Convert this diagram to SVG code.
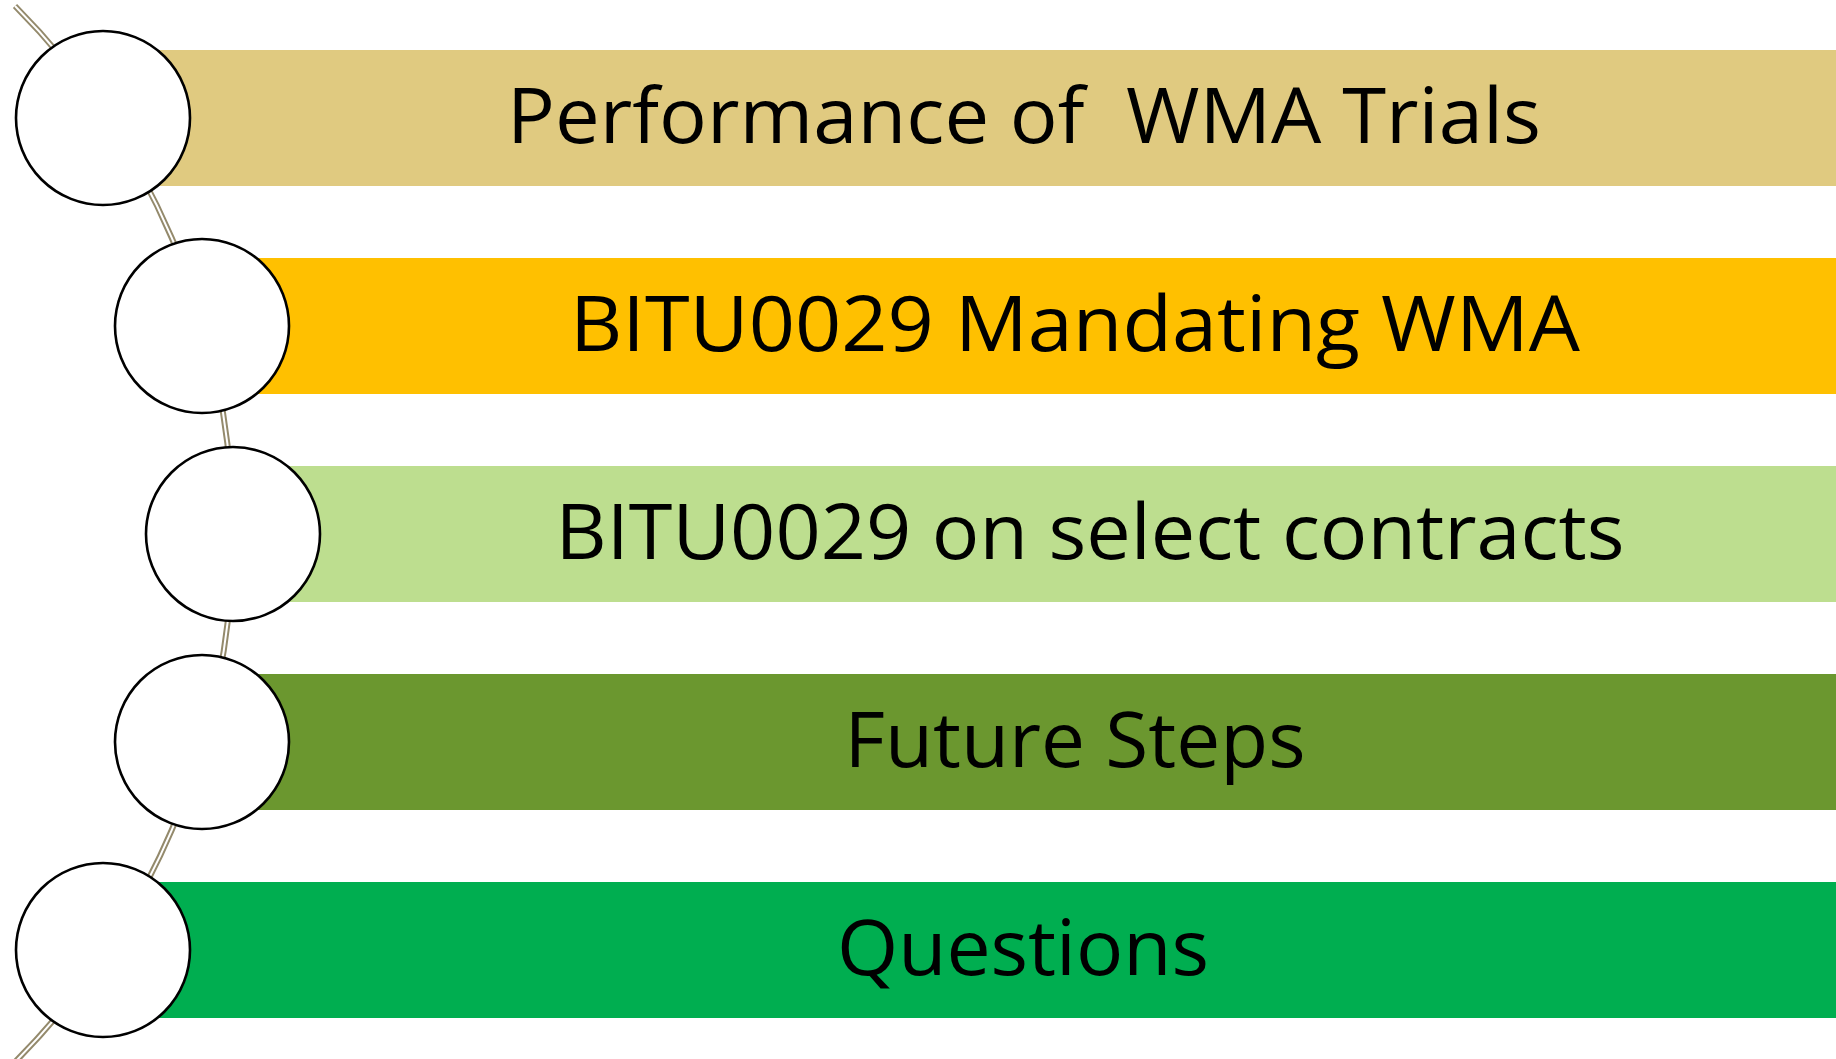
<svg xmlns="http://www.w3.org/2000/svg" width="1836" height="1059" viewBox="0 0 1836 1059">
  <style>
    .bar { stroke: none; }
    .dot { fill: #ffffff; stroke: #000000; stroke-width: 2.6; }
    .label { font-family: "Open Sans", "Liberation Sans", sans-serif; font-size: 77px; fill: #000000; text-anchor: middle; white-space: pre; }
    .rail-outer { fill: none; stroke: #948A6C; stroke-width: 6; }
    .rail-inner { fill: none; stroke: #ffffff; stroke-width: 2; }
  </style>
  <rect width="1836" height="1059" fill="#ffffff"/>

  <!-- bands -->
  <g id="band-1"><rect class="bar" x="103" y="50" width="1733" height="136" fill="#E0CA80"/></g>
  <g id="band-2"><rect class="bar" x="202" y="258" width="1634" height="136" fill="#FFC000"/></g>
  <g id="band-3"><rect class="bar" x="233" y="466" width="1603" height="136" fill="#BDDE8F"/></g>
  <g id="band-4"><rect class="bar" x="202" y="674" width="1634" height="136" fill="#6B972F"/></g>
  <g id="band-5"><rect class="bar" x="103" y="882" width="1733" height="136" fill="#00AE50"/></g>

  <!-- curved double rail linking the circles -->
  <g id="connectors">
    <path class="rail-outer" d="M 15,6 A 749 749 0 0 1 15,1062"/>
    <path class="rail-inner" d="M 15,6 A 749 749 0 0 1 15,1062"/>
  </g>

  <!-- circle markers -->
  <g id="node-1"><circle class="dot" cx="103" cy="118" r="87"/></g>
  <g id="node-2"><circle class="dot" cx="202" cy="326" r="87"/></g>
  <g id="node-3"><circle class="dot" cx="233" cy="534" r="87"/></g>
  <g id="node-4"><circle class="dot" cx="202" cy="742" r="87"/></g>
  <g id="node-5"><circle class="dot" cx="103" cy="950" r="87"/></g>

  <!-- labels -->
  <g id="label-1"><text class="label" x="1024" y="143" textLength="1034" lengthAdjust="spacingAndGlyphs">Performance of  WMA Trials</text></g>
  <g id="label-2"><text class="label" x="1075" y="351" textLength="1010" lengthAdjust="spacingAndGlyphs">BITU0029 Mandating WMA</text></g>
  <g id="label-3"><text class="label" x="1090" y="559" textLength="1069" lengthAdjust="spacingAndGlyphs">BITU0029 on select contracts</text></g>
  <g id="label-4"><text class="label" x="1075" y="767" textLength="461" lengthAdjust="spacingAndGlyphs">Future Steps</text></g>
  <g id="label-5"><text class="label" x="1023" y="975" textLength="372" lengthAdjust="spacingAndGlyphs">Questions</text></g>
</svg>
